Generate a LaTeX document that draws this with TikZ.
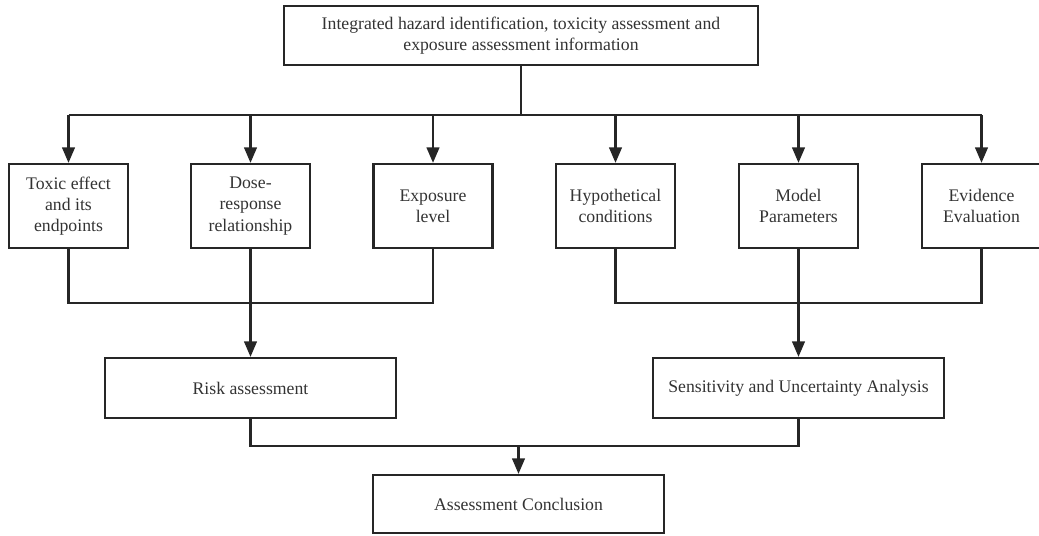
\documentclass[tikz,border=0pt]{standalone}
\usepackage{fontspec}
\setmainfont{Liberation Serif}
\usepackage{tikz}
\usetikzlibrary{arrows.meta}

\begin{document}
\begin{tikzpicture}[x=0.025cm, y=-0.025cm, color=black!85, line width=1.5pt,
	main/.style = {draw, line width=1.6pt, align=center, text=black!80, font=\fontsize{12.6}{15}\selectfont, inner sep=0pt},
	small/.style = {main, minimum width=2.975cm, minimum height=2.1cm},
	wide/.style = {main, minimum width=7.275cm, minimum height=1.5cm},
	arr/.style = {-{Triangle[length=11pt,width=9pt]}}]
	\useasboundingbox (0,0) rectangle (1039,535);
	\node[main, minimum width=11.85cm, minimum height=1.475cm] (top) at (521,35.5){Integrated hazard identification, toxicity assessment and\\exposure assessment information};
	\node[small] (tox) at (68.5,206){Toxic effect\\and its\\endpoints};
	\node[small] (dose) at (250.5,206){Dose-\\response\\relationship};
	\node[small] (expo) at (433,206){Exposure\\level};
	\node[small] (hyp) at (615.5,206){Hypothetical\\conditions};
	\node[small] (model) at (798.5,206){Model\\Parameters};
	\node[small] (evid) at (981.5,206){Evidence\\Evaluation};
	\node[wide] (risk) at (250.5,388){Risk assessment};
	\node[wide] (sens) at (798.5,388){Sensitivity and Uncertainty Analysis};
	\node[wide, minimum height=1.45cm] (concl) at (518.5,504){Assessment Conclusion};
	\coordinate (bus) at (521,115);
	\coordinate (joinL) at (250.5,303);
	\coordinate (joinR) at (798.5,303);
	\coordinate (joinB) at (518.5,446);
	% top fan-out
	\draw (top.south) -- (bus);
	\draw (bus -| tox) -- (bus -| evid);
	\foreach \n in {tox, dose, expo, hyp, model, evid}
		\draw[arr] (bus -| \n) -- (\n.north);
	% merge into the two analyses
	\draw (tox.south) |- (joinL) -| (expo.south);
	\draw[arr] (dose) -- (risk);
	\draw (hyp.south) |- (joinR) -| (evid.south);
	\draw[arr] (model) -- (sens);
	% conclusion
	\draw (risk.south) |- (joinB) -| (sens.south);
	\draw[arr] (joinB) -- (concl.north);
\end{tikzpicture}
\end{document}
